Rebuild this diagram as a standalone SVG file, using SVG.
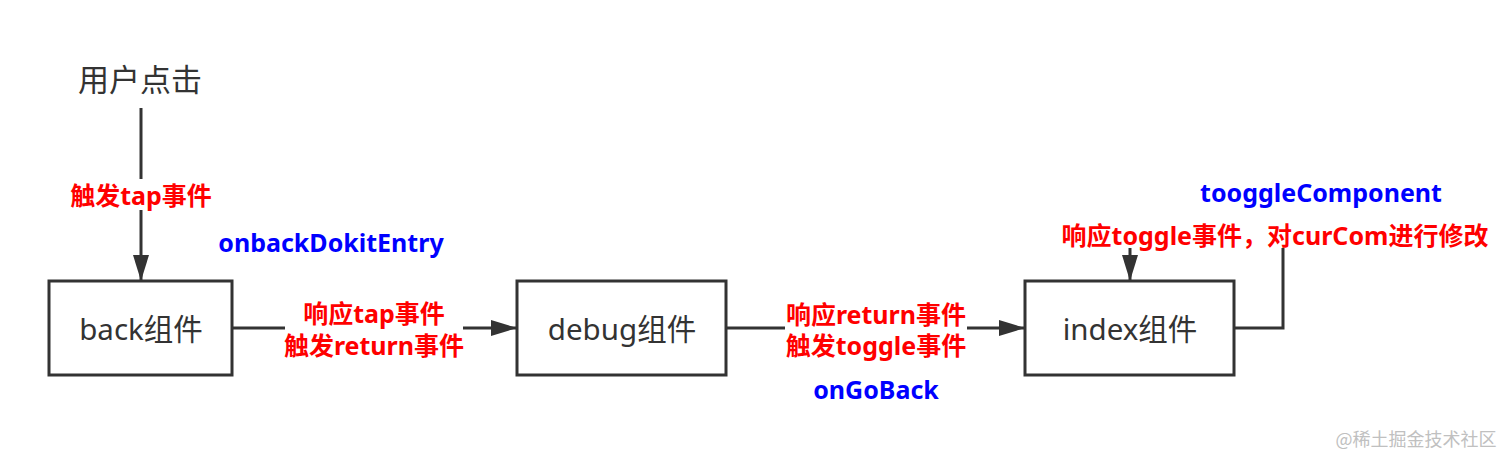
<svg xmlns="http://www.w3.org/2000/svg" width="1512" height="466" viewBox="0 0 1512 466">
<style>
.box{fill:#fff;stroke:#333;stroke-width:3}
.ln{fill:none;stroke:#333;stroke-width:3}
.nt{font-family:"Noto Sans","Noto Sans CJK SC",sans-serif;font-size:29.5px;fill:#333;text-anchor:middle}
.red{font-family:"Noto Sans","Noto Sans CJK SC",sans-serif;font-size:25px;font-weight:bold;fill:#ff0000;text-anchor:middle}
.blue{font-family:"Noto Sans","Noto Sans CJK SC",sans-serif;font-size:25px;font-weight:bold;fill:#0000ff;text-anchor:middle}
.wm{font-family:"Noto Sans CJK SC",sans-serif;font-size:18px;fill:#c0c0c0;text-anchor:middle}
</style>
<defs>
<marker id="arr" markerUnits="userSpaceOnUse" markerWidth="28" markerHeight="18" refX="26" refY="8" orient="auto">
<path d="M0,0 L26,8 L0,16 Z" fill="#333"/>
</marker>
</defs>
<rect width="1512" height="466" fill="#fff"/>
<g id="connectors">
<line class="ln" x1="141" y1="108" x2="141" y2="179"/>
<line class="ln" x1="141" y1="210" x2="141" y2="281" marker-end="url(#arr)"/>
<line class="ln" x1="232" y1="328" x2="285" y2="328"/>
<line class="ln" x1="463" y1="328" x2="517" y2="328" marker-end="url(#arr)"/>
<line class="ln" x1="726" y1="328" x2="785" y2="328"/>
<line class="ln" x1="967" y1="328" x2="1025" y2="328" marker-end="url(#arr)"/>
<line class="ln" x1="1130" y1="248" x2="1130" y2="281" marker-end="url(#arr)"/>
<polyline class="ln" points="1234,328 1283,328 1283,248"/>
</g>
<g id="user">
<text class="nt" x="140" y="91" style="font-size:31px">用户点击</text>
</g>
<g id="back">
<rect class="box" x="49" y="281" width="183" height="94"/>
<text class="nt" x="141" y="340">back组件</text>
</g>
<g id="debug">
<rect class="box" x="517" y="281" width="209" height="94"/>
<text class="nt" x="622" y="340">debug组件</text>
</g>
<g id="index">
<rect class="box" x="1025" y="281" width="209" height="94"/>
<text class="nt" x="1130" y="340">index组件</text>
</g>
<g id="labels">
<text class="red" x="141" y="205">触发tap事件</text>
<text class="blue" x="331" y="252">onbackDokitEntry</text>
<text class="red" x="374" y="323">响应tap事件</text>
<text class="red" x="374" y="355">触发return事件</text>
<text class="red" x="876" y="324">响应return事件</text>
<text class="red" x="876" y="355">触发toggle事件</text>
<text class="blue" x="876" y="399">onGoBack</text>
<text class="blue" x="1321" y="202">tooggleComponent</text>
<text class="red" x="1275" y="245">响应toggle事件，对curCom进行修改</text>
</g>
<text class="wm" x="1416" y="446">@稀土掘金技术社区</text>
</svg>
